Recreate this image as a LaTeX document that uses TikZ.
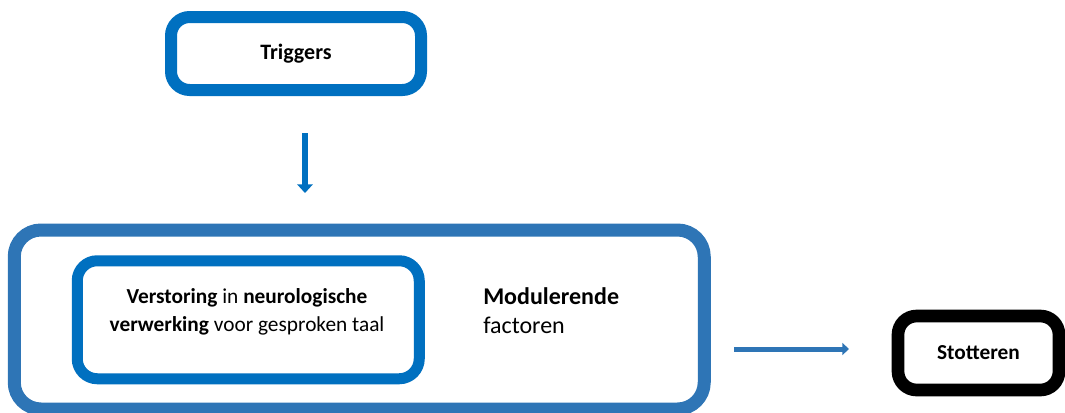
\documentclass[tikz,border=0pt]{standalone}
\usepackage{fontspec}
\setmainfont{Carlito}
\usetikzlibrary{arrows.meta}
\definecolor{wordblue}{HTML}{0070C0}
\definecolor{accblue}{HTML}{2E75B6}
\begin{document}
\begin{tikzpicture}[x=0.75pt,y=-0.75pt,
  box/.style={draw=wordblue,line width=9pt,rounded corners=14pt,fill=white,align=center,inner sep=0pt}]
\useasboundingbox (0,0) rectangle (1065,412);
\node[box,minimum width=187.5pt,minimum height=54.75pt,font=\fontsize{16.5}{20}\selectfont\bfseries] (trig) at (296,53.5) {Triggers};
\node[box,draw=accblue,line width=9.75pt,rounded corners=20pt,minimum width=517.5pt,minimum height=134.25pt] (outer) at (359.25,319.5) {};
\node[box,line width=8.25pt,rounded corners=15pt,minimum width=256.5pt,minimum height=88.5pt] (inner) at (248.25,319.75) {};
\node[align=center,inner sep=0pt,font=\fontsize{16}{21}\selectfont] (innertext) at (247,312) {\textbf{Verstoring} in \textbf{neurologische}\\\textbf{verwerking} voor gesproken taal};
\node[anchor=north west,align=left,inner sep=0pt,font=\fontsize{18}{22}\selectfont] (mod) at (483,287) {\textbf{Modulerende}\\factoren};
\node[box,draw=black,line width=9.5pt,rounded corners=14pt,minimum width=120.75pt,minimum height=55.5pt,font=\fontsize{16}{20}\selectfont\bfseries] (stot) at (978.5,353) {Stotteren};
\coordinate (d1) at (305,133);
\coordinate (d2) at (305,193);
\coordinate (r1) at (734,349);
\coordinate (r2) at (849,349);
\draw[wordblue,line width=4.5pt,-{Triangle[width=11.5pt,length=6.5pt]}] (d1) -- (d2);
\draw[accblue,line width=3.75pt,-{Triangle[width=9pt,length=5pt]}] (r1) -- (r2);
\end{tikzpicture}
\end{document}
